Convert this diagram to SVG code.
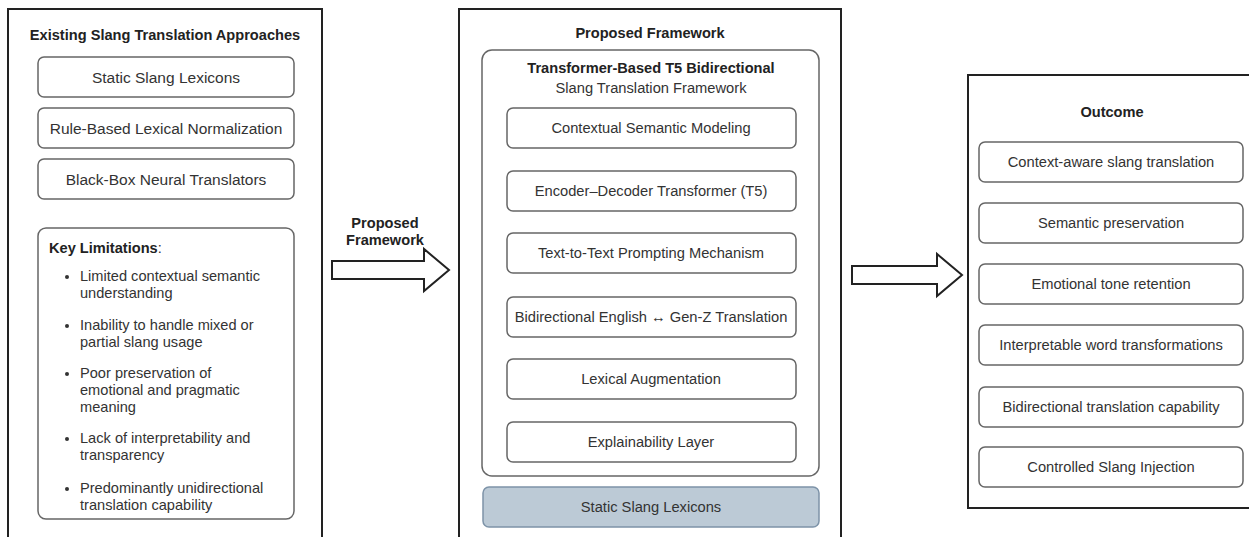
<svg xmlns="http://www.w3.org/2000/svg" width="1249" height="537" viewBox="0 0 1249 537">
<style>
.panel{fill:#fff;stroke:#222;stroke-width:2}
.box{fill:#fff;stroke:#666;stroke-width:1.5}
.lex{fill:#bccad6;stroke:#7d93a8;stroke-width:1.5}
.t{font-family:"Liberation Sans",Arial,sans-serif;font-size:14.7px;fill:#333;text-anchor:middle;dominant-baseline:central}
.tl{font-size:15.5px}
.b{font-family:"Liberation Sans",Arial,sans-serif;font-size:14.6px;font-weight:bold;fill:#222;text-anchor:middle;dominant-baseline:central}
.l{font-family:"Liberation Sans",Arial,sans-serif;font-size:14.6px;fill:#333;dominant-baseline:central}
.arrow{fill:#fff;stroke:#222;stroke-width:2;stroke-linejoin:miter}
</style>
<rect width="1249" height="537" fill="#fff"/>

<g id="existing">
  <rect class="panel" x="8" y="9" width="314" height="540"/>
  <text class="b" x="165" y="35">Existing Slang Translation Approaches</text>
  <g id="ex-static"><rect class="box" x="38" y="57" width="256" height="40" rx="6"/><text class="t tl" x="166" y="77">Static Slang Lexicons</text></g>
  <g id="ex-rule"><rect class="box" x="38" y="108" width="256" height="40" rx="6"/><text class="t tl" x="166" y="128">Rule-Based Lexical Normalization</text></g>
  <g id="ex-blackbox"><rect class="box" x="38" y="159" width="256" height="40" rx="6"/><text class="t tl" x="166" y="179">Black-Box Neural Translators</text></g>
  <g id="limitations">
    <rect class="box" x="38" y="228" width="256" height="291" rx="8"/>
    <text class="l" x="49" y="248" font-size="13.5px"><tspan font-weight="bold" fill="#222">Key Limitations</tspan>:</text>
    <circle cx="67" cy="277" r="2" fill="#333"/>
    <text class="l" x="80" y="276">Limited contextual semantic</text>
    <text class="l" x="80" y="293">understanding</text>
    <circle cx="67" cy="326" r="2" fill="#333"/>
    <text class="l" x="80" y="325">Inability to handle mixed or</text>
    <text class="l" x="80" y="342">partial slang usage</text>
    <circle cx="67" cy="374" r="2" fill="#333"/>
    <text class="l" x="80" y="373">Poor preservation of</text>
    <text class="l" x="80" y="390">emotional and pragmatic</text>
    <text class="l" x="80" y="407">meaning</text>
    <circle cx="67" cy="439" r="2" fill="#333"/>
    <text class="l" x="80" y="438">Lack of interpretability and</text>
    <text class="l" x="80" y="455">transparency</text>
    <circle cx="67" cy="489" r="2" fill="#333"/>
    <text class="l" x="80" y="488">Predominantly unidirectional</text>
    <text class="l" x="80" y="505">translation capability</text>
  </g>
</g>

<g id="connectors">
  <path class="arrow" d="M332,261 H424 V249 L449,270 L424,291 V279 H332 Z"/>
  <path class="arrow" d="M852,266 H937 V254 L962,275 L937,296 V284 H852 Z"/>
  <text class="b" x="385" y="223">Proposed</text>
  <text class="b" x="385" y="240">Framework</text>
</g>

<g id="proposed">
  <rect class="panel" x="459" y="9" width="382" height="540"/>
  <text class="b" x="650" y="33">Proposed Framework</text>
  <g id="t5">
    <rect class="box" x="482" y="50" width="337" height="426" rx="10"/>
    <text class="b" x="651" y="68">Transformer-Based T5 Bidirectional</text>
    <text class="t" x="651" y="88">Slang Translation Framework</text>
  </g>
  <g id="p-contextual"><rect class="box" x="507" y="108" width="289" height="40" rx="6"/><text class="t" x="651" y="128">Contextual Semantic Modeling</text></g>
  <g id="p-encoder"><rect class="box" x="507" y="171" width="289" height="40" rx="6"/><text class="t" x="651" y="191">Encoder–Decoder Transformer (T5)</text></g>
  <g id="p-prompt"><rect class="box" x="507" y="233" width="289" height="40" rx="6"/><text class="t" x="651" y="253">Text-to-Text Prompting Mechanism</text></g>
  <g id="p-bidir"><rect class="box" x="507" y="297" width="289" height="40" rx="6"/><text class="t" x="651" y="317">Bidirectional English ↔ Gen-Z Translation</text></g>
  <g id="p-lexical"><rect class="box" x="507" y="359" width="289" height="40" rx="6"/><text class="t" x="651" y="379">Lexical Augmentation</text></g>
  <g id="p-explain"><rect class="box" x="507" y="422" width="289" height="40" rx="6"/><text class="t" x="651" y="442">Explainability Layer</text></g>
  <g id="p-static"><rect class="lex" x="483" y="487" width="336" height="40" rx="6"/><text class="t" x="651" y="507">Static Slang Lexicons</text></g>
</g>

<g id="outcome">
  <rect class="panel" x="968" y="75" width="290" height="433"/>
  <text class="b" x="1112" y="112">Outcome</text>
  <g id="o-context"><rect class="box" x="979" y="142" width="264" height="40" rx="6"/><text class="t" x="1111" y="162">Context-aware slang translation</text></g>
  <g id="o-semantic"><rect class="box" x="979" y="203" width="264" height="40" rx="6"/><text class="t" x="1111" y="223">Semantic preservation</text></g>
  <g id="o-emotion"><rect class="box" x="979" y="264" width="264" height="40" rx="6"/><text class="t" x="1111" y="284">Emotional tone retention</text></g>
  <g id="o-interp"><rect class="box" x="979" y="325" width="264" height="40" rx="6"/><text class="t" x="1111" y="345">Interpretable word transformations</text></g>
  <g id="o-bidir"><rect class="box" x="979" y="387" width="264" height="40" rx="6"/><text class="t" x="1111" y="407">Bidirectional translation capability</text></g>
  <g id="o-slang"><rect class="box" x="979" y="447" width="264" height="40" rx="6"/><text class="t" x="1111" y="467">Controlled Slang Injection</text></g>
</g>
</svg>
